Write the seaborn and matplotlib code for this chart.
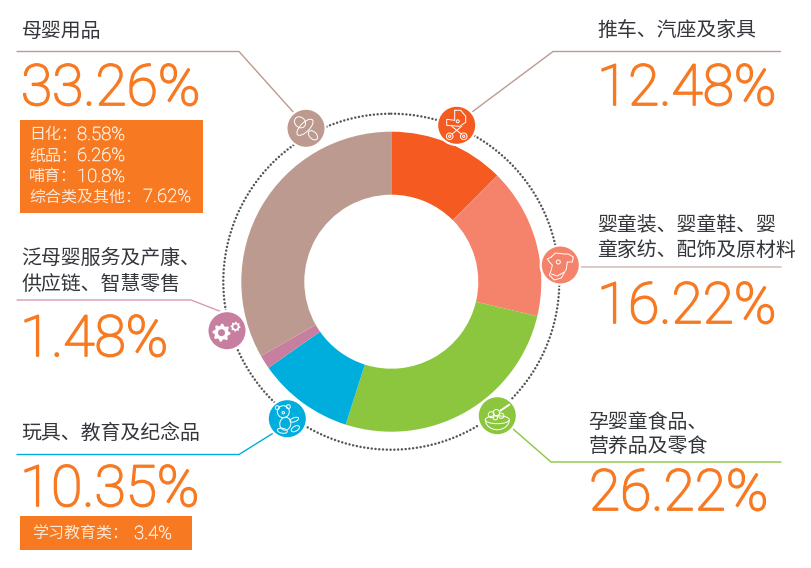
import numpy as np
import matplotlib
matplotlib.use("Agg")
import matplotlib.pyplot as plt
import matplotlib.patheffects as pe
from matplotlib.patches import Circle, Ellipse, Rectangle, Polygon, Arc
import seaborn as sns

categories = ["推车、汽座及家具", "婴童装、婴童鞋、婴童家纺、配饰及原材料", "孕婴童食品、营养品及零食",
              "玩具、教育及纪念品", "泛母婴服务及产康、供应链、智慧零售", "母婴用品"]
shares = [12.48, 16.22, 26.22, 10.35, 1.48, 33.26]
share_labels = ["12.48%", "16.22%", "26.22%", "10.35%", "1.48%", "33.26%"]
seg_colors = ["#f55b20", "#f5836c", "#8cc63f", "#00aede", "#c87e9f", "#bc9a8f"]
box1_names = ["日化：", "纸品：", "哺育：", "综合类及其他："]
box1_values = ["8.58%", "6.26%", "10.8%", "7.62%"]
box2_name = "学习教育类："
box2_value = "3.4%"

sns.set_theme(style="white")
cjk = ["Noto Sans CJK SC", "DejaVu Sans"]
num_font = "Roboto"
plt.rcParams["font.family"] = cjk

W, H = 812, 568
fig = plt.figure(figsize=(W / 100, H / 100), dpi=100, facecolor="white")

CX, CY, R = 391.3, 281.7, 150.0
pie_ax = fig.add_axes([(CX - R) / W, 1 - (CY + R) / H, 2 * R / W, 2 * R / H])
pie_ax.pie(shares, colors=sns.color_palette(seg_colors), startangle=90, counterclock=False,
           radius=1.0, wedgeprops=dict(width=63 / 150, linewidth=0))
pie_ax.set_xlim(-1, 1)
pie_ax.set_ylim(-1, 1)
pie_ax.axis("off")

ax = fig.add_axes([0, 0, 1, 1], zorder=3)
ax.patch.set_alpha(0)
ax.set_xlim(0, W)
ax.set_ylim(H, 0)
ax.axis("off")

# dotted ring
ax.add_patch(Circle((CX, CY), 168, fill=False, ec="#555555", lw=1.8,
                    linestyle=(0, (0.01, 1.5)), capstyle="round", zorder=1))

# leader lines
leaders = [
    ([17, 239, 295], [51.5, 51.5, 114], seg_colors[5], 1.0),
    ([780.5, 553, 470], [51.5, 51.5, 113.5], seg_colors[5], 1.0),
    ([578, 781], [267, 267], "#d9c6c1", 1.3),
    ([512, 551, 781], [428, 462, 462], seg_colors[2], 1.0),
    ([275, 239, 17], [432, 454.5, 454.5], seg_colors[3], 1.0),
    ([222, 191, 17], [312, 300, 300], "#d99ab6", 1.0),
]
for xs, ys, c, lw in leaders:
    ax.plot(xs, ys, color=c, lw=lw, zorder=2, solid_joinstyle="miter")

# titles
TXT = "#33363b"
def title(x, y, s):
    ax.text(x, y, s, fontsize=14.35, color=TXT, va="center", ha="left", zorder=5)
title(21.5, 31.5, "母婴用品")
title(597.5, 31.5, "推车、汽座及家具")
title(597.5, 225.5, "婴童装、婴童鞋、婴")
title(597.5, 250.5, "童家纺、配饰及原材料")
title(588.5, 422.5, "孕婴童食品、")
title(588.5, 446.5, "营养品及零食")
title(21.5, 258.5, "泛母婴服务及产康、")
title(21.5, 284.5, "供应链、智慧零售")
title(21.5, 433.5, "玩具、教育及纪念品")

# big numbers
ORANGE = "#f77a22"
num_pos = [(597, 105), (597, 323), (589, 510), (20, 506), (20, 356), (21, 105)]
for (x, y), s in zip(num_pos, share_labels):
    ax.text(x, y, s, fontsize=41, color=ORANGE, family=num_font, weight="light",
            va="baseline", ha="left", zorder=5,
            path_effects=[pe.withStroke(linewidth=1.3, foreground=ORANGE)])

# boxes
BOXTXT = "#fde6d3"
thin = [pe.withStroke(linewidth=0.4, foreground=BOXTXT)]
ax.add_patch(Rectangle((20, 120), 183, 93, fc=ORANGE, ec="none", zorder=4))
for y, s, v, vx in zip([135, 156, 177, 197], box1_names, box1_values, [77, 77, 77, 143]):
    ax.text(29, y, s, fontsize=11.5, color=BOXTXT, va="center", ha="left", zorder=5)
    ax.text(vx, y, v, fontsize=13.3, color=BOXTXT, family=num_font, weight="light",
            va="center", ha="left", zorder=5, path_effects=thin)
ax.add_patch(Rectangle((20, 516), 172, 34, fc=ORANGE, ec="none", zorder=4))
ax.text(32, 534, box2_name, fontsize=11.5, color=BOXTXT, va="center", ha="left", zorder=5)
ax.text(134, 534, box2_value, fontsize=13.3, color=BOXTXT, family=num_font, weight="light",
        va="center", ha="left", zorder=5, path_effects=thin)

# icons
IR = 18.5
WL = dict(color="white", lw=0.7, zorder=7, solid_capstyle="round")
def badge(x, y, c):
    ax.add_patch(Circle((x, y), IR + 2.2, fc="white", ec="none", zorder=5))
    ax.add_patch(Circle((x, y), IR, fc=c, ec="none", zorder=6))
def ring(x, y, r, lw=0.7):
    ax.add_patch(Circle((x, y), r, fill=False, ec="white", lw=lw, zorder=7))
def ell(x, y, w, h, a=0, lw=0.7):
    ax.add_patch(Ellipse((x, y), w, h, angle=a, fill=False, ec="white", lw=lw, zorder=7))
def pl(x, y, xs, ys, **kw):
    ax.plot(np.asarray(xs) + x, np.asarray(ys) + y, **{**WL, **kw})

# pacifier
x, y = 306, 128.3
badge(x, y, seg_colors[5])
ell(x - 6, y - 6, 12, 10, 45)
ell(x - 1, y - 1, 21, 9, -45)
ell(x + 7, y + 7, 11, 7, 45)
# stroller
x, y = 456.7, 125.3
badge(x, y, seg_colors[0])
pl(x, y, [-2, 4, 9, 9, 3, -10, -10, -2, -2], [-15, -15, -9, -3, 1, 0, -6, -5, -15])
pl(x, y, [-5, 5], [1, 9])
pl(x, y, [5, -5], [1, 9])
for dx in (-7, 7):
    ring(x + dx, y + 11, 3.3)
    ring(x + dx, y + 11, 1.1)
ring(x + 1, y - 4, 1.5)
# onesie
x, y = 560.3, 265
badge(x, y, seg_colors[1])
pl(x, y, [-9, -5, 4, 8, 13, 12, 7, 6, 1, -6, -11, -9, -8, -10, -13, -9],
   [-8, -12, -11, -11, -8, -3, -3, 4, 13, 15, 10, 5, 0, -2, -6, -8])
pl(x, y, [-9, -3, 4], [9, 11, 7])
ring(x - 2, y - 3, 2)
# bowl
x, y = 497.3, 415.7
badge(x, y, seg_colors[2])
ell(x, y + 4, 24, 8)
ax.add_patch(Arc((x, y + 4), 24, 20, theta1=0, theta2=180, ec="white", lw=0.7, zorder=7))
for dx, dy, r in ((-6, -1, 3), (-1, -3, 3.2), (4, 0, 2.6), (-2, 2, 2.2)):
    ring(x + dx, y + dy, r)
pl(x, y, [3, 12], [-5, -11], lw=1.4)
# bear
x, y = 287.3, 418.7
badge(x, y, seg_colors[3])
ring(x - 4, y - 7, 6)
ring(x - 10, y - 11, 2)
ring(x + 1, y - 12, 2)
ell(x - 2, y + 5, 11, 13, 10)
ell(x + 7, y + 1, 9, 4, -20)
ell(x + 8, y + 10, 9, 5, -30)
ell(x - 5, y + 12, 10, 5, 10)
ring(x - 4, y - 6, 1.2)
# gears
x, y = 227, 330.7
badge(x, y, seg_colors[4])
def gear(cx, cy, ro, ri, hole, n):
    a = np.linspace(0, 2 * np.pi, 4 * n, endpoint=False)
    r = np.tile([ro, ro, ri, ri], n)
    ax.add_patch(Polygon(np.c_[cx + r * np.cos(a), cy + r * np.sin(a)], fc="white", ec="none", zorder=7))
    ax.add_patch(Circle((cx, cy), hole, fc=seg_colors[4], ec="none", zorder=8))
gear(x - 5.5, y + 2, 9, 7, 3.5, 8)
gear(x + 8.5, y - 4, 5, 3.9, 2.2, 8)

fig.savefig("out.png", dpi=100)
